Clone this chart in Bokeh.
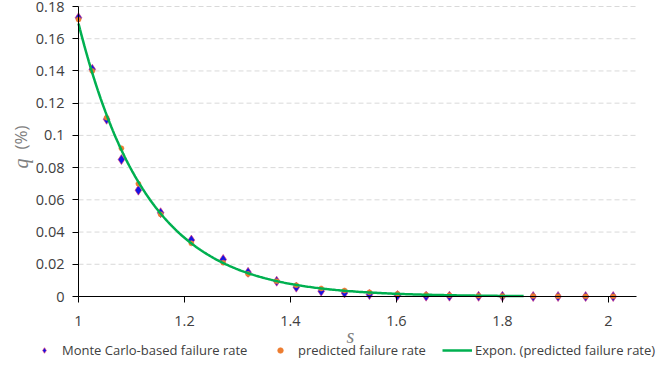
from bokeh.plotting import figure
from bokeh.models import (Range1d, FixedTicker, CustomJSTickFormatter, Legend,
                          LegendItem, Label, LinearAxis)
from bokeh.embed import file_html
from bokeh.resources import INLINE
import numpy as np

# Safety factor s and failure rates q (%)
s_values = [1.000, 1.026, 1.053, 1.081, 1.113, 1.155, 1.213, 1.273, 1.320,
            1.374, 1.411, 1.458, 1.502, 1.549, 1.602, 1.656, 1.700, 1.755,
            1.800, 1.858, 1.905, 1.957, 2.009]
mc_rate = [0.173, 0.141, 0.110, 0.085, 0.066, 0.052, 0.035, 0.023, 0.015,
           0.0095, 0.0058, 0.0033, 0.0022, 0.0012, 0.0006, 0.0002, 0.0002,
           0.0001, 0.0001, 0.0, 0.0, 0.0, 0.0]
pred_rate = [0.172, 0.140, 0.111, 0.092, 0.070, 0.051, 0.033, 0.021, 0.014,
             0.0095, 0.0070, 0.0050, 0.0037, 0.0026, 0.0017, 0.0011, 0.0008,
             0.0005, 0.00035, 0.0003, 0.0002, 0.0001, 0.0001]
trend_end = 1.84

x_ticks = [1, 1.2, 1.4, 1.6, 1.8, 2]
y_ticks = [0, 0.02, 0.04, 0.06, 0.08, 0.1, 0.12, 0.14, 0.16, 0.18]

legend_labels = ["Monte Carlo-based failure rate", "predicted failure rate",
                 "Expon. (predicted failure rate)"]

FONT = "Open Sans"
MATH_FONT = "Liberation Serif"
TXT = "#404040"
GREY = "#808080"

# Exponential trendline fitted to the predicted rates (log-linear least squares)
s_arr = np.array(s_values)
p_arr = np.array(pred_rate)
mask = (s_arr <= trend_end) & (p_arr > 0)
b, ln_a = np.polyfit(s_arr[mask], np.log(p_arr[mask]), 1)
s_fit = np.linspace(s_values[0], trend_end, 300)
q_fit = np.exp(ln_a) * np.exp(b * s_fit)

# The frame fills the whole canvas; axes sit at fixed data positions so that
# titles and legend can live anywhere on the page.
W, H = 660, 375
x_min, x_max = 1.0, 2.053          # extent of the plot area in s
y_min, y_max = 0.0, 0.18           # extent of the plot area in q
left_px, right_px, top_px, bottom_px = 78, 636, 6, 296
kx = (x_max - x_min) / (right_px - left_px)
ky = (y_max - y_min) / (bottom_px - top_px)
x_range = Range1d(x_min - left_px * kx, x_max + (W - right_px) * kx)
y_range = Range1d(y_min - (H - bottom_px) * ky, y_max + top_px * ky)

p = figure(width=W, height=H, output_backend="svg", toolbar_location=None,
           x_range=x_range, y_range=y_range, min_border=0,
           x_axis_location=None, y_axis_location=None)
p.outline_line_color = None
p.background_fill_color = "white"
p.border_fill_color = "white"
p.xgrid.visible = False
p.ygrid.visible = False

fmt = CustomJSTickFormatter(code="return String(Number(tick.toFixed(4)));")

xax = LinearAxis(fixed_location=y_min, bounds=(x_min, x_max))
yax = LinearAxis(fixed_location=x_min, bounds=(y_min, y_max))
for ax, ticks in ((xax, x_ticks), (yax, y_ticks)):
    ax.ticker = FixedTicker(ticks=ticks)
    ax.formatter = fmt
    ax.axis_line_color = "black"
    ax.major_tick_line_color = "black"
    ax.major_tick_in = 0
    ax.major_tick_out = 6
    ax.minor_tick_line_color = None
    ax.major_label_text_font = FONT
    ax.major_label_text_font_size = "14.5px"
    ax.major_label_text_color = TXT
xax.major_label_standoff = 13
yax.major_label_standoff = 8
p.add_layout(xax, "below")
p.add_layout(yax, "left")

# Dashed horizontal gridlines across the plot area
grid_y = y_ticks[1:]
p.segment(x0=[x_min] * len(grid_y), x1=[x_max] * len(grid_y),
          y0=grid_y, y1=grid_y, line_color="#d9d9d9", line_dash="5 3",
          line_width=1)

r_mc = p.scatter(s_values, mc_rate, marker="diamond", size=10,
                 fill_color="#1414e6", line_color="#e8306a", line_alpha=0.6,
                 line_width=1)
r_pred = p.scatter(s_values, pred_rate, marker="circle", size=5,
                   fill_color="#ed7d31", line_color="#ed7d31", line_alpha=0.6)
r_fit = p.line(s_fit, q_fit, line_color="#00b050", line_width=2.5)

# Legend entries placed individually beneath the plot area
legend_x = [29, 265, 442]
for lab, rend, lx in zip(legend_labels, [r_mc, r_pred, r_fit], legend_x):
    lg = Legend(items=[LegendItem(label=lab, renderers=[rend])],
                location=(lx, 16), orientation="horizontal",
                padding=0, margin=0, spacing=0, label_standoff=3,
                glyph_width=30, glyph_height=14, label_height=14,
                label_text_font=FONT, label_text_font_size="13px",
                label_text_color=TXT, border_line_color=None,
                background_fill_alpha=0)
    p.add_layout(lg)

# Axis titles: italic variable names in grey
p.add_layout(Label(x=x_min, y=y_min, x_offset=-58, y_offset=128, text="q",
                   angle=np.pi / 2, text_font=MATH_FONT,
                   text_font_style="italic", text_font_size="20px",
                   text_color=GREY, text_align="left",
                   text_baseline="middle"))
p.add_layout(Label(x=x_min, y=y_min, x_offset=-58, y_offset=147, text="(%)",
                   angle=np.pi / 2, text_font=FONT, text_font_size="17px",
                   text_color=GREY, text_align="left", text_baseline="middle"))
p.add_layout(Label(x=x_min, y=y_min, x_offset=272, y_offset=-39, text="s",
                   text_font=MATH_FONT, text_font_style="italic",
                   text_font_size="20px", text_color=GREY,
                   text_align="center", text_baseline="middle"))

open("out.html", "w").write(file_html(p, INLINE))
